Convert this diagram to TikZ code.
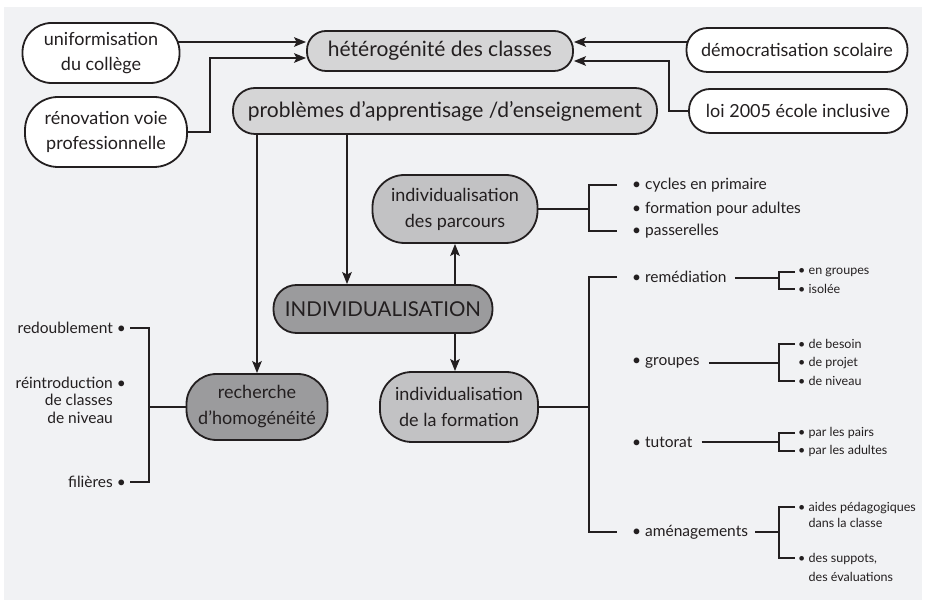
\documentclass[tikz,border=0pt]{standalone}
\usepackage{fontspec}
\setmainfont{Lato}
\usetikzlibrary{arrows.meta,calc}
\definecolor{bgc}{HTML}{F1F2F4}
\definecolor{ink}{HTML}{231F20}
\definecolor{gA}{HTML}{D5D5D6}
\definecolor{gB}{HTML}{C2C2C4}
\definecolor{gC}{HTML}{9B9B9D}
\pgfdeclarelayer{back}\pgfdeclarelayer{wires}\pgfsetlayers{back,wires,main}
\newcommand{\fs}[2]{\fontsize{#1}{#2}\selectfont}
\begin{document}
\begin{tikzpicture}[x=1pt,y=-1pt,
  box/.style={draw=ink, line width=1.8pt, text=ink, align=center, inner sep=0pt},
  wbox/.style={box, fill=white, font=\fs{18}{25}},
  arr/.style={draw=ink, line width=1.8pt, -{Stealth[length=12pt,width=9.5pt,inset=2.5pt]}},
  wire/.style={draw=ink, line width=1.8pt},
  thinwire/.style={draw=ink, line width=1.4pt},
  item/.style={text=ink, inner sep=0pt, anchor=west, font=\fs{15.5}{18}},
  subitem/.style={text=ink, inner sep=0pt, anchor=west, align=left, font=\fs{12.5}{16}},
  leftitem/.style={text=ink, inner sep=0pt, anchor=east, align=right, font=\fs{15.5}{17.5}}
]
\useasboundingbox (0,0) rectangle (927,601);
\begin{pgfonlayer}{back}
  \fill[white] (0,0) rectangle (927,601);
  \fill[bgc] (4,7) rectangle (922,600);
\end{pgfonlayer}

% top nodes
\node[wbox, minimum width=157pt, minimum height=60pt, rounded corners=29pt] (uni) at (101,53) {uniformisation\\du collège};
\node[wbox, minimum width=162pt, minimum height=70pt, rounded corners=33pt] (ren) at (106,132) {rénovation voie\\professionnelle};
\node[box, fill=gA, font=\fs{21}{25}, minimum width=266pt, minimum height=40pt, rounded corners=19pt] (het) at (440,51) {hétérogénité des classes};
\node[box, fill=gA, font=\fs{21}{25}, minimum width=424pt, minimum height=46pt, rounded corners=22pt] (prob) at (445,111) {problèmes d’apprentisage /d’enseignement};
\node[wbox, minimum width=221pt, minimum height=44pt, rounded corners=21pt] (demo) at (797,50) {démocratisation scolaire};
\node[wbox, minimum width=218pt, minimum height=44pt, rounded corners=21pt] (loi) at (798,111) {loi 2005 école inclusive};

% central nodes
\node[box, fill=gC, font=\fs{20.5}{24}, minimum width=219pt, minimum height=48pt, rounded corners=23pt] (indiv) at (383,309) {INDIVIDUALISATION};
\node[box, fill=gB, font=\fs{18}{26}, minimum width=165pt, minimum height=68pt, rounded corners=32pt] (parc) at (455,209) {individualisation\\des parcours};
\node[box, fill=gB, font=\fs{18}{26}, minimum width=158pt, minimum height=70pt, rounded corners=32pt] (form) at (459,407) {individualisation\\de la formation};
\node[box, fill=gC, font=\fs{18}{26}, minimum width=141pt, minimum height=66pt, rounded corners=30pt] (rech) at (257,407) {recherche\\d’homogénéité};

% parcours list
\node[item] (c1) at (632,185) {• cycles en primaire};
\node[item] (c2) at (632,209) {• formation pour adultes};
\node[item] (c3) at (632,231) {• passerelles};

% formation list
\node[item] (rem) at (632,277) {• remédiation};
\node[item] (grp) at (632,363) {• groupes};
\node[item] (tut) at (632,442) {• tutorat};
\node[item] (amen) at (632,532) {• aménagements};

% sub lists
\node[subitem] (r1) at (798,272) {• en groupes};
\node[subitem] (r2) at (798,289) {• isolée};
\node[subitem] (g1) at (798,344) {• de besoin};
\node[subitem] (g2) at (798,363) {• de projet};
\node[subitem] (g3) at (798,381) {• de niveau};
\node[subitem] (t1) at (798,433) {• par les pairs};
\node[subitem] (t2) at (798,451) {• par les adultes};
\node[subitem] (a1) at (798,515) {• aides pédagogiques\\\hphantom{• }dans la classe};
\node[subitem] (a2) at (798,567) {• des suppots,\\[3pt]\hphantom{• }des évaluations};

% left list
\node[leftitem] (redo) at (126,328) {redoublement •};
\node[leftitem] (reint) at (126,400) {réintroduction •\\de classes\hphantom{ •}\\de niveau\hphantom{ •}};
\node[leftitem] (fil) at (126,482) {filières •};

\coordinate (k1) at (210,58);
\coordinate (k2) at (669,61);
\coordinate (bp) at (589,209);
\coordinate (bf) at (589,407);
\coordinate (s1) at (779,278);
\coordinate (s2) at (779,363);
\coordinate (s3) at (779,442);
\coordinate (s4) at (779,532);
\coordinate (ta1) at (795,507);
\coordinate (ta2) at (795,558);
\coordinate (lb) at (149,407);

\begin{pgfonlayer}{wires}
  \draw[arr] ([yshift=11pt]uni.center) -- ([yshift=11pt]uni.center -| het.west);
  \draw[arr] (ren.center) -| (k1) -- (k1 -| het.west);
  \draw[arr] ([yshift=9pt]het.east -| demo.center) -- ([yshift=9pt]het.east);
  \draw[arr] (loi.center) -| (k2) -- (k2 -| het.east);
  \draw[arr] (rech.north |- prob.center) -- (rech.north);
  \draw[arr] ([xshift=-36pt]indiv.north |- prob.center) -- ([xshift=-36pt]indiv.north);
  \draw[arr] (parc.south |- indiv.center) -- (parc.south);
  \draw[arr] (parc.south |- indiv.center) -- (parc.south |- form.north);

  \draw[wire] (parc.center) -- (bp);
  \draw[wire] ([xshift=-15pt]c1.west) -| (bp) |- ([xshift=-15pt]c3.west);
  \draw[wire] (form.center) -- (bf);
  \draw[wire] ([xshift=-15pt]rem.west) -| (bf) |- ([xshift=-15pt]amen.west);

  \draw[thinwire] ([xshift=8pt]rem.east |- s1) -- (s1);
  \draw[thinwire] ([xshift=-3pt]r1.west) -| (s1) |- ([xshift=-3pt]r2.west);
  \draw[thinwire] ([xshift=9pt]grp.east) -- (s2);
  \draw[thinwire] ([xshift=-3pt]g1.west) -| (s2) |- ([xshift=-3pt]g3.west);
  \draw[thinwire] ([xshift=9pt]tut.east) -- (s3);
  \draw[thinwire] ([xshift=-3pt]t1.west) -| (s3) |- ([xshift=-3pt]t2.west);
  \draw[thinwire] ([xshift=7pt]amen.east) -- (s4);
  \draw[thinwire] (ta1) -| (s4) |- (ta2);

  \draw[wire] (lb) -- (rech.center);
  \draw[wire] ([xshift=4pt]redo.east) -| (lb) |- ([xshift=4pt]fil.east);
\end{pgfonlayer}
\end{tikzpicture}
\end{document}
